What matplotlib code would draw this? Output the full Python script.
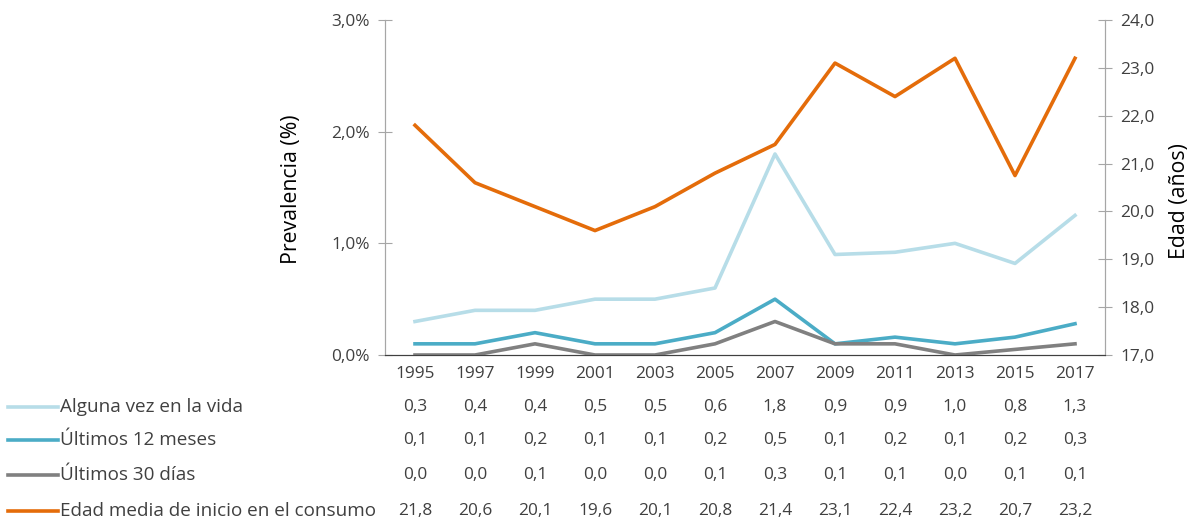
import matplotlib.pyplot as plt
import numpy as np

plt.rcParams['font.family'] = ['Open Sans', 'DejaVu Sans']

years = ['1995', '1997', '1999', '2001', '2003', '2005', '2007',
         '2009', '2011', '2013', '2015', '2017']

# values as drawn in the chart
vida = [0.30, 0.40, 0.40, 0.50, 0.50, 0.60, 1.80, 0.90, 0.92, 1.00, 0.82, 1.25]
meses12 = [0.10, 0.10, 0.20, 0.10, 0.10, 0.20, 0.50, 0.10, 0.16, 0.10, 0.16, 0.28]
dias30 = [0.00, 0.00, 0.10, 0.00, 0.00, 0.10, 0.30, 0.10, 0.10, 0.00, 0.05, 0.10]
edad = [21.8, 20.6, 20.1, 19.6, 20.1, 20.8, 21.4, 23.1, 22.4, 23.2, 20.75, 23.2]

# values as printed in the table
tabla_vida = ['0,3', '0,4', '0,4', '0,5', '0,5', '0,6', '1,8', '0,9', '0,9', '1,0', '0,8', '1,3']
tabla_12 = ['0,1', '0,1', '0,2', '0,1', '0,1', '0,2', '0,5', '0,1', '0,2', '0,1', '0,2', '0,3']
tabla_30 = ['0,0', '0,0', '0,1', '0,0', '0,0', '0,1', '0,3', '0,1', '0,1', '0,0', '0,1', '0,1']
tabla_edad = ['21,8', '20,6', '20,1', '19,6', '20,1', '20,8', '21,4', '23,1', '22,4', '23,2', '20,7', '23,2']

series_names = ['Alguna vez en la vida', 'Últimos 12 meses', 'Últimos 30 días',
                'Edad media de inicio en el consumo']
colors = ['#b7dde8', '#4bacc6', '#808080', '#e46c0a']
text_col = '#404040'
fs = 12.4      # numbers
fs_name = 13.6  # row names

fig = plt.figure(figsize=(11.99, 5.23), dpi=100)
ax = fig.add_axes([385 / 1199, 1 - 355 / 523, 720 / 1199, 335 / 523])
ax2 = ax.twinx()

x = np.arange(len(years))
lw = 2.6
ax.plot(x, vida, color=colors[0], lw=lw, zorder=3)
ax.plot(x, meses12, color=colors[1], lw=lw, zorder=3)
ax.plot(x, dias30, color=colors[2], lw=lw, zorder=3)
ax2.plot(x, edad, color=colors[3], lw=lw, zorder=3)

ax.set_xlim(-0.5, len(years) - 0.5)
ax.set_ylim(0, 3)
ax2.set_ylim(17, 24)
ax.set_yticks([0, 1, 2, 3])
ax.set_yticklabels(['0,0%', '1,0%', '2,0%', '3,0%'])
ax2.set_yticks(np.arange(17, 25))
ax2.set_yticklabels([f'{v},0' for v in range(17, 25)])
ax.set_xticks(x)
ax.set_xticklabels(years)

for a in (ax, ax2):
    a.spines['top'].set_visible(False)
    a.spines['left'].set_color('#a6a6a6')
    a.spines['right'].set_color('#a6a6a6')
    a.spines['bottom'].set_color('#404040')
    a.tick_params(axis='y', direction='inout', length=10, color='#a6a6a6',
                  labelsize=fs, labelcolor=text_col, pad=6)
ax.tick_params(axis='x', length=0, labelsize=fs, labelcolor=text_col, pad=8)

ax.set_ylabel('Prevalencia (%)', fontsize=15.3, color='black', va='center')
ax.yaxis.set_label_coords((292 - 385) / 720, (355 - 189) / 335)
ax2.set_ylabel('Edad (años)', fontsize=15.3, color='black', va='center')
ax2.yaxis.set_label_coords((1180 - 385) / 720, (355 - 201) / 335)

# data table below the chart
rows = [tabla_vida, tabla_12, tabla_30, tabla_edad]
row_y = [407, 440, 475, 511]
for name, col, vals, py in zip(series_names, colors, rows, row_y):
    yf = 1 - py / 523
    fig.add_artist(plt.Line2D([8 / 1199, 58 / 1199], [yf, yf], color=col, lw=lw,
                              transform=fig.transFigure))
    fig.text(60 / 1199, yf, name, ha='left', va='center', fontsize=fs_name, color=text_col)
    for i, v in enumerate(vals):
        px = 415 + 60 * i
        fig.text(px / 1199, yf, v, ha='center', va='center', fontsize=fs, color=text_col)

fig.savefig('out.png', dpi=100)
